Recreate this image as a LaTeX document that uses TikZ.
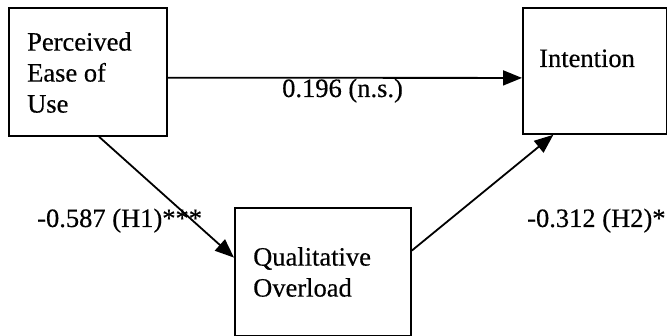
\documentclass[tikz,border=0pt]{standalone}
\usepackage{fontspec}
\setmainfont{Liberation Serif}[FakeBold=0.4]
\usetikzlibrary{arrows.meta,calc}
\begin{document}
\begin{tikzpicture}[x=1pt,y=-1pt,
  box/.style={draw, line width=1.8pt, inner sep=0pt, anchor=north west},
  txt/.style={inner sep=0pt, anchor=base west, font=\fontsize{26.5}{31}\selectfont},
  conn/.style={line width=1.8pt, -{Triangle[length=19pt,width=15pt]}}]
\useasboundingbox (0,0) rectangle (667,336);
\node[box, minimum width=158pt, minimum height=128pt] (peou) at (8,7) {};
\node[box, minimum width=144pt, minimum height=126pt] (int) at (522,7) {};
\node[box, minimum width=176pt, minimum height=128pt] (qo) at (234,207) {};
\node[txt, align=left, anchor=north west] (t1) at (27,32) {Perceived\\Ease of\\Use};
\node[txt] (t2) at (539,67) {Intention};
\node[txt, align=left, anchor=north west] (t3) at (253,247) {Qualitative\\Overload};
\draw[conn] ($(peou.north east)!0.545!(peou.south east)$) -- ($(int.north west)!0.555!(int.south west)$);
\draw[conn] ($(peou.south west)!0.57!(peou.south east)$) -- ($(qo.north west)!0.39!(qo.south west)$);
\draw[conn] ($(qo.north east)!0.336!(qo.south east)$) -- ($(int.south west)!0.215!(int.south east)$);
\node[txt] (l1) at (282,97) {0.196 (n.s.)};
\node[txt] (l2) at (37,227) {-0.587 (H1)***};
\node[txt] (l3) at (527,227) {-0.312 (H2)*};
\end{tikzpicture}
\end{document}
